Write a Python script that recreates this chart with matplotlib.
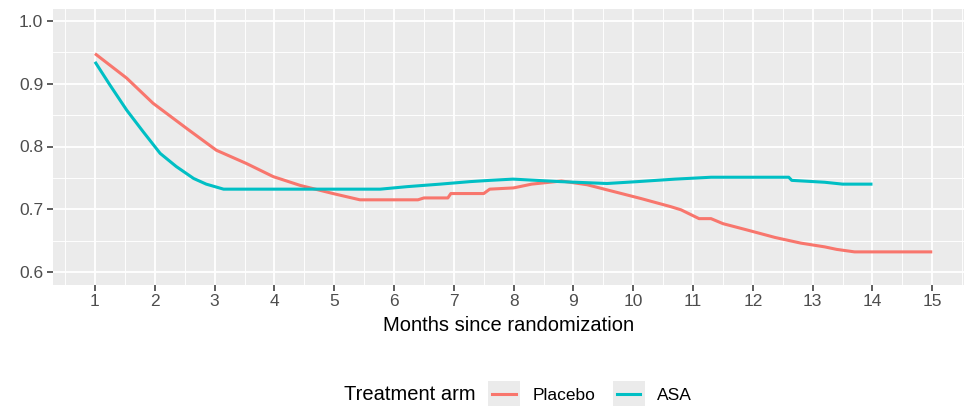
import matplotlib
matplotlib.use("Agg")
import matplotlib.pyplot as plt
from matplotlib.lines import Line2D
from matplotlib.patches import Rectangle
from matplotlib.legend_handler import HandlerBase
from matplotlib.ticker import MultipleLocator

plt.rcParams['font.family'] = ['Liberation Sans', 'DejaVu Sans']

# Data
placebo_x = [1.0, 1.53, 1.97, 2.53, 3.03, 3.53, 3.98, 4.43, 4.98, 5.43, 5.77, 6.4, 6.5, 6.9,
             6.95, 7.5, 7.6, 8.0, 8.3, 8.8, 9.23, 9.68, 10.13, 10.63, 10.8, 11.1, 11.3,
             11.5, 11.9, 12.37, 12.8, 13.2, 13.4, 13.7, 15.0]
placebo_y = [0.948, 0.909, 0.869, 0.829, 0.794, 0.773, 0.752, 0.738, 0.725, 0.715, 0.715, 0.715,
             0.718, 0.718, 0.725, 0.725, 0.732, 0.734, 0.740, 0.745, 0.739, 0.728, 0.717, 0.704,
             0.699, 0.685, 0.685, 0.677, 0.667, 0.655, 0.646, 0.640, 0.636, 0.632, 0.632]

asa_x = [1.0, 1.25, 1.53, 1.81, 2.09, 2.36, 2.65, 2.86, 3.15, 5.77, 6.22, 6.77, 7.27, 7.6,
         7.99, 8.78, 9.56, 10.07, 10.7, 11.3, 12.6, 12.65, 13.2, 13.5, 14.0]
asa_y = [0.935, 0.898, 0.858, 0.823, 0.789, 0.768, 0.749, 0.740, 0.732, 0.732, 0.736, 0.740,
         0.744, 0.746, 0.748, 0.744, 0.741, 0.744, 0.748, 0.751, 0.751, 0.746, 0.743, 0.740,
         0.740]

series_names = ["Placebo", "ASA"]
series_colors = ["#F8766D", "#00BFC4"]
x_ticks = list(range(1, 16))
y_ticks = [0.6, 0.7, 0.8, 0.9, 1.0]

W, H = 964, 407
fig = plt.figure(figsize=(W / 100, H / 100), dpi=100)
ax = fig.add_axes([53 / W, 1 - 284.5 / H, (W - 53) / W, 276 / H])
ax.set_facecolor("#EBEBEB")
for s in ax.spines.values():
    s.set_visible(False)

ax.plot(placebo_x, placebo_y, color=series_colors[0], lw=2.2, solid_capstyle='butt')
ax.plot(asa_x, asa_y, color=series_colors[1], lw=2.2, solid_capstyle='butt')

ax.set_xlim(0.298, 15.53)
ax.set_ylim(0.58, 1.02)
ax.set_xticks(x_ticks)
ax.set_yticks(y_ticks)
ax.set_yticklabels([f"{v:.1f}" for v in y_ticks])
ax.xaxis.set_minor_locator(MultipleLocator(0.5))
ax.yaxis.set_minor_locator(MultipleLocator(0.05))
ax.grid(True, which='major', color='white', lw=1.3)
ax.grid(True, which='minor', color='white', lw=0.65)
ax.set_axisbelow(True)
ax.tick_params(which='minor', length=0)
ax.tick_params(which='major', length=4, width=1.1, color='#333333',
               labelcolor='#4D4D4D', labelsize=12.5, pad=3)

ax.set_xlabel("Months since randomization", fontsize=14.5, color='black', labelpad=5)


class KeyHandler(HandlerBase):
    def create_artists(self, legend, orig_handle, xdescent, ydescent, width, height, fontsize, trans):
        pad = 3
        rect = Rectangle((-xdescent, -ydescent - pad), width, height + 2 * pad,
                         facecolor="#EBEBEB", edgecolor='none', transform=trans)
        line = Line2D([-xdescent + 3, -xdescent + width - 3],
                      [height / 2 - ydescent] * 2, color=orig_handle.get_color(),
                      lw=2.2, transform=trans)
        return [rect, line]


handles = [Line2D([], [], color=c) for c in series_colors]
leg = fig.legend(handles, series_names, loc='center left', bbox_to_anchor=(488 / W, 1 - 394 / H),
                 ncol=2, frameon=False, fontsize=12.5, handlelength=1.85, handleheight=1.1,
                 handletextpad=0.7, columnspacing=1.0, borderaxespad=0, borderpad=0,
                 handler_map={Line2D: KeyHandler()})
fig.text(476 / W, 1 - 394 / H, "Treatment arm", ha='right', va='center', fontsize=14.5, color='black')

fig.savefig("out.png", dpi=100, facecolor='white')
